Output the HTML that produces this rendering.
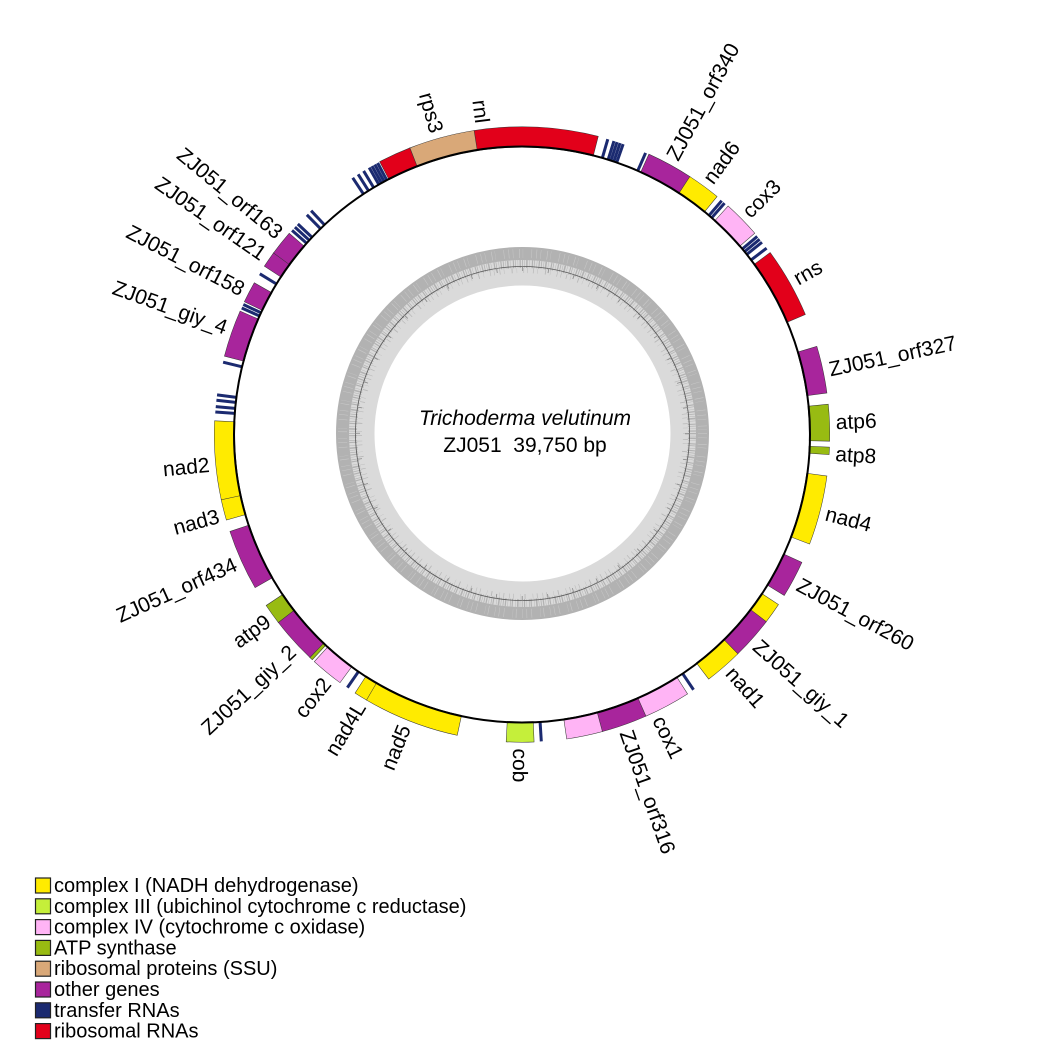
<!DOCTYPE html>
<html><head><meta charset="utf-8"><style>
html,body{margin:0;padding:0;background:#fff;}
svg{display:block;font-family:"Liberation Sans",Arial,sans-serif;}
</style></head><body>
<svg width="1062" height="1062" viewBox="0 0 1062 1062" xmlns="http://www.w3.org/2000/svg">
<rect width="1062" height="1062" fill="#fff"/>

<!-- GC content ring -->
<g transform="translate(522.5 433.5)" fill="none">
<circle r="167" stroke="#dadada" stroke-width="38"/>
<circle r="180" stroke="#b2b2b2" stroke-width="13"/>
<circle r="169.5" stroke="#b2b2b2" stroke-width="8" stroke-dasharray="0.8 1.6 0.5 1.2 1.5 1.4 0.4 2.4 1.1 1.0 0.7 2.0 0.4 1.5 1.2 1.3"/>
<circle r="163" stroke="#b8b8b8" stroke-width="5" stroke-dasharray="0.5 5.1 0.7 3.7 0.4 7.3 0.9 4.2 0.3 6.5 0.6 3.4"/>
<circle r="180" stroke="#c9c9c9" stroke-width="9" stroke-dasharray="0.5 3.7 0.4 6.1 0.6 2.9 0.3 8.4 0.5 4.4"/>
<circle r="167" stroke="#555" stroke-width="0.8"/>
<circle r="165" stroke="#888" stroke-width="5" stroke-dasharray="0.8 25.1"/>
</g>

<text x="525" y="425" font-size="21" font-style="italic" text-anchor="middle" fill="#000">Trichoderma velutinum</text>
<text x="525" y="452" font-size="21" text-anchor="middle" fill="#000">ZJ051&#160; 39,750 bp</text>

<g transform="translate(522 434.5)">
<g fill="none">
<circle r="297.5" stroke="#333" stroke-width="21" stroke-dasharray="122.02 2000" transform="rotate(260.9)"/>
<circle r="297.5" stroke="#e2001a" stroke-width="20" stroke-dasharray="120.98 2000" transform="rotate(261)"/>
<circle r="297.5" stroke="#333" stroke-width="21" stroke-dasharray="65.43 2000" transform="rotate(248.5)"/>
<circle r="297.5" stroke="#d9a878" stroke-width="20" stroke-dasharray="64.39 2000" transform="rotate(248.6)"/>
<circle r="297.5" stroke="#333" stroke-width="21" stroke-dasharray="32.71 2000" transform="rotate(242.4)"/>
<circle r="297.5" stroke="#e2001a" stroke-width="20" stroke-dasharray="31.67 2000" transform="rotate(242.5)"/>
<circle r="297.5" stroke="#333" stroke-width="21" stroke-dasharray="46.21 2000" transform="rotate(-65.7)"/>
<circle r="297.5" stroke="#a8259c" stroke-width="20" stroke-dasharray="45.17 2000" transform="rotate(-65.6)"/>
<circle r="297.5" stroke="#333" stroke-width="21" stroke-dasharray="33.23 2000" transform="rotate(-57)"/>
<circle r="297.5" stroke="#ffeb00" stroke-width="20" stroke-dasharray="32.19 2000" transform="rotate(-56.9)"/>
<circle r="297.5" stroke="#333" stroke-width="21" stroke-dasharray="37.39 2000" transform="rotate(-48)"/>
<circle r="297.5" stroke="#ffb4f5" stroke-width="20" stroke-dasharray="36.35 2000" transform="rotate(-47.9)"/>
<circle r="297.5" stroke="#333" stroke-width="21" stroke-dasharray="69.58 2000" transform="rotate(-36.3)"/>
<circle r="297.5" stroke="#e2001a" stroke-width="20" stroke-dasharray="68.54 2000" transform="rotate(-36.2)"/>
<circle r="297.5" stroke="#333" stroke-width="21" stroke-dasharray="46.73 2000" transform="rotate(-16.7)"/>
<circle r="297.5" stroke="#a8259c" stroke-width="20" stroke-dasharray="45.69 2000" transform="rotate(-16.6)"/>
<circle r="297.5" stroke="#333" stroke-width="21" stroke-dasharray="36.35 2000" transform="rotate(-5.7)"/>
<circle r="297.5" stroke="#98bb12" stroke-width="20" stroke-dasharray="35.31 2000" transform="rotate(-5.6)"/>
<circle r="297.5" stroke="#333" stroke-width="21" stroke-dasharray="7.79 2000" transform="rotate(2.3)"/>
<circle r="297.5" stroke="#98bb12" stroke-width="20" stroke-dasharray="6.75 2000" transform="rotate(2.4)"/>
<circle r="297.5" stroke="#333" stroke-width="21" stroke-dasharray="68.54 2000" transform="rotate(7.7)"/>
<circle r="297.5" stroke="#ffeb00" stroke-width="20" stroke-dasharray="67.5 2000" transform="rotate(7.8)"/>
<circle r="297.5" stroke="#333" stroke-width="21" stroke-dasharray="36.87 2000" transform="rotate(24.5)"/>
<circle r="297.5" stroke="#a8259c" stroke-width="20" stroke-dasharray="35.83 2000" transform="rotate(24.6)"/>
<circle r="297.5" stroke="#333" stroke-width="21" stroke-dasharray="21.29 2000" transform="rotate(33.5)"/>
<circle r="297.5" stroke="#ffeb00" stroke-width="20" stroke-dasharray="20.25 2000" transform="rotate(33.6)"/>
<circle r="297.5" stroke="#333" stroke-width="21" stroke-dasharray="42.58 2000" transform="rotate(37.4)"/>
<circle r="297.5" stroke="#a8259c" stroke-width="20" stroke-dasharray="41.54 2000" transform="rotate(37.5)"/>
<circle r="297.5" stroke="#333" stroke-width="21" stroke-dasharray="37.91 2000" transform="rotate(45.4)"/>
<circle r="297.5" stroke="#ffeb00" stroke-width="20" stroke-dasharray="36.87 2000" transform="rotate(45.5)"/>
<circle r="297.5" stroke="#333" stroke-width="21" stroke-dasharray="46.73 2000" transform="rotate(57.4)"/>
<circle r="297.5" stroke="#ffb4f5" stroke-width="20" stroke-dasharray="45.69 2000" transform="rotate(57.5)"/>
<circle r="297.5" stroke="#333" stroke-width="21" stroke-dasharray="45.69 2000" transform="rotate(66.2)"/>
<circle r="297.5" stroke="#a8259c" stroke-width="20" stroke-dasharray="44.65 2000" transform="rotate(66.3)"/>
<circle r="297.5" stroke="#333" stroke-width="21" stroke-dasharray="35.83 2000" transform="rotate(74.8)"/>
<circle r="297.5" stroke="#ffb4f5" stroke-width="20" stroke-dasharray="34.79 2000" transform="rotate(74.9)"/>
<circle r="297.5" stroke="#333" stroke-width="21" stroke-dasharray="27.52 2000" transform="rotate(87.7)"/>
<circle r="297.5" stroke="#c5ef3a" stroke-width="20" stroke-dasharray="26.48 2000" transform="rotate(87.8)"/>
<circle r="297.5" stroke="#333" stroke-width="21" stroke-dasharray="95.54 2000" transform="rotate(102.1)"/>
<circle r="297.5" stroke="#ffeb00" stroke-width="20" stroke-dasharray="94.5 2000" transform="rotate(102.2)"/>
<circle r="297.5" stroke="#333" stroke-width="21" stroke-dasharray="13.5 2000" transform="rotate(120.3)"/>
<circle r="297.5" stroke="#ffeb00" stroke-width="20" stroke-dasharray="12.46 2000" transform="rotate(120.4)"/>
<circle r="297.5" stroke="#333" stroke-width="21" stroke-dasharray="32.71 2000" transform="rotate(126.2)"/>
<circle r="297.5" stroke="#ffb4f5" stroke-width="20" stroke-dasharray="31.67 2000" transform="rotate(126.3)"/>
<circle r="297.5" stroke="#333" stroke-width="21" stroke-dasharray="4.16 2000" transform="rotate(132.9)"/>
<circle r="297.5" stroke="#98bb12" stroke-width="20" stroke-dasharray="3.12 2000" transform="rotate(133)"/>
<circle r="297.5" stroke="#333" stroke-width="21" stroke-dasharray="46.73 2000" transform="rotate(133.5)"/>
<circle r="297.5" stroke="#a8259c" stroke-width="20" stroke-dasharray="45.69 2000" transform="rotate(133.6)"/>
<circle r="297.5" stroke="#333" stroke-width="21" stroke-dasharray="20.77 2000" transform="rotate(142.3)"/>
<circle r="297.5" stroke="#98bb12" stroke-width="20" stroke-dasharray="19.73 2000" transform="rotate(142.4)"/>
<circle r="297.5" stroke="#333" stroke-width="21" stroke-dasharray="60.23 2000" transform="rotate(150.1)"/>
<circle r="297.5" stroke="#a8259c" stroke-width="20" stroke-dasharray="59.19 2000" transform="rotate(150.2)"/>
<circle r="297.5" stroke="#333" stroke-width="21" stroke-dasharray="21.29 2000" transform="rotate(163.8)"/>
<circle r="297.5" stroke="#ffeb00" stroke-width="20" stroke-dasharray="20.25 2000" transform="rotate(163.9)"/>
<circle r="297.5" stroke="#333" stroke-width="21" stroke-dasharray="77.37 2000" transform="rotate(167.7)"/>
<circle r="297.5" stroke="#ffeb00" stroke-width="20" stroke-dasharray="76.33 2000" transform="rotate(167.8)"/>
<circle r="297.5" stroke="#333" stroke-width="21" stroke-dasharray="46.73 2000" transform="rotate(194.7)"/>
<circle r="297.5" stroke="#a8259c" stroke-width="20" stroke-dasharray="45.69 2000" transform="rotate(194.8)"/>
<circle r="297.5" stroke="#333" stroke-width="21" stroke-dasharray="21.29 2000" transform="rotate(205.5)"/>
<circle r="297.5" stroke="#a8259c" stroke-width="20" stroke-dasharray="20.25 2000" transform="rotate(205.6)"/>
<circle r="297.5" stroke="#333" stroke-width="21" stroke-dasharray="16.62 2000" transform="rotate(213.1)"/>
<circle r="297.5" stroke="#a8259c" stroke-width="20" stroke-dasharray="15.58 2000" transform="rotate(213.2)"/>
<circle r="297.5" stroke="#333" stroke-width="21" stroke-dasharray="24.93 2000" transform="rotate(216.1)"/>
<circle r="297.5" stroke="#a8259c" stroke-width="20" stroke-dasharray="23.89 2000" transform="rotate(216.2)"/>
</g>

<g stroke="#1b2a70" stroke-width="3">
<line x1="0" y1="-288" x2="0" y2="-307.5" transform="rotate(16.2)"/>
<line x1="0" y1="-288" x2="0" y2="-307.5" transform="rotate(17.4)"/>
<line x1="0" y1="-288" x2="0" y2="-307.5" transform="rotate(18.0)"/>
<line x1="0" y1="-288" x2="0" y2="-307.5" transform="rotate(18.6)"/>
<line x1="0" y1="-288" x2="0" y2="-307.5" transform="rotate(19.2)"/>
<line x1="0" y1="-288" x2="0" y2="-307.5" transform="rotate(23.7)"/>
<line x1="0" y1="-288" x2="0" y2="-307.5" transform="rotate(40.5)"/>
<line x1="0" y1="-288" x2="0" y2="-307.5" transform="rotate(41.2)"/>
<line x1="0" y1="-288" x2="0" y2="-307.5" transform="rotate(49.9)"/>
<line x1="0" y1="-288" x2="0" y2="-307.5" transform="rotate(50.6)"/>
<line x1="0" y1="-288" x2="0" y2="-307.5" transform="rotate(51.3)"/>
<line x1="0" y1="-288" x2="0" y2="-307.5" transform="rotate(52.7)"/>
<line x1="0" y1="-288" x2="0" y2="-307.5" transform="rotate(146.1)"/>
<line x1="0" y1="-288" x2="0" y2="-307.5" transform="rotate(176.4)"/>
<line x1="0" y1="-288" x2="0" y2="-307.5" transform="rotate(214.6)"/>
<line x1="0" y1="-288" x2="0" y2="-307.5" transform="rotate(274.2)"/>
<line x1="0" y1="-288" x2="0" y2="-307.5" transform="rotate(275.2)"/>
<line x1="0" y1="-288" x2="0" y2="-307.5" transform="rotate(276.4)"/>
<line x1="0" y1="-288" x2="0" y2="-307.5" transform="rotate(277.4)"/>
<line x1="0" y1="-288" x2="0" y2="-307.5" transform="rotate(283.6)"/>
<line x1="0" y1="-288" x2="0" y2="-307.5" transform="rotate(294.3)"/>
<line x1="0" y1="-288" x2="0" y2="-307.5" transform="rotate(295.0)"/>
<line x1="0" y1="-288" x2="0" y2="-307.5" transform="rotate(301.5)"/>
<line x1="0" y1="-288" x2="0" y2="-307.5" transform="rotate(311.6)"/>
<line x1="0" y1="-288" x2="0" y2="-307.5" transform="rotate(312.4)"/>
<line x1="0" y1="-288" x2="0" y2="-307.5" transform="rotate(313.2)"/>
<line x1="0" y1="-288" x2="0" y2="-307.5" transform="rotate(315.6)"/>
<line x1="0" y1="-288" x2="0" y2="-307.5" transform="rotate(316.7)"/>
<line x1="0" y1="-288" x2="0" y2="-307.5" transform="rotate(326.6)"/>
<line x1="0" y1="-288" x2="0" y2="-307.5" transform="rotate(327.8)"/>
<line x1="0" y1="-288" x2="0" y2="-307.5" transform="rotate(329.0)"/>
<line x1="0" y1="-288" x2="0" y2="-307.5" transform="rotate(330.2)"/>
<line x1="0" y1="-288" x2="0" y2="-307.5" transform="rotate(330.8)"/>
<line x1="0" y1="-288" x2="0" y2="-307.5" transform="rotate(331.4)"/>
<line x1="0" y1="-288" x2="0" y2="-307.5" transform="rotate(332.0)"/>
</g>

<circle r="288" fill="none" stroke="#000" stroke-width="2"/>

<g font-size="21" fill="#000">
<text transform="rotate(-61.5) translate(314 0)" dy="0.35em">ZJ051_orf340</text>
<text transform="rotate(-53.8) translate(314 0)" dy="0.35em">nad6</text>
<text transform="rotate(-44.6) translate(314 0)" dy="0.35em">cox3</text>
<text transform="rotate(-29.6) translate(314 0)" dy="0.35em">rns</text>
<text transform="rotate(-12) translate(314 0)" dy="0.35em">ZJ051_orf327</text>
<text transform="rotate(-2.3) translate(314 0)" dy="0.35em">atp6</text>
<text transform="rotate(3.5) translate(314 0)" dy="0.35em">atp8</text>
<text transform="rotate(14.5) translate(314 0)" dy="0.35em">nad4</text>
<text transform="rotate(28.3) translate(314 0)" dy="0.35em">ZJ051_orf260</text>
<text transform="rotate(41.7) translate(314 0)" dy="0.35em">ZJ051_giy_1</text>
<text transform="rotate(48.5) translate(314 0)" dy="0.35em">nad1</text>
<text transform="rotate(64.2) translate(314 0)" dy="0.35em">cox1</text>
<text transform="rotate(70.6) translate(314 0)" dy="0.35em">ZJ051_orf316</text>
<text transform="rotate(90.3) translate(314 0)" dy="0.35em">cob</text>

<text transform="rotate(292) translate(-314 0)" dy="0.35em" text-anchor="end">nad5</text>
<text transform="rotate(301) translate(-314 0)" dy="0.35em" text-anchor="end">nad4L</text>
<text transform="rotate(308.5) translate(-314 0)" dy="0.35em" text-anchor="end">cox2</text>
<text transform="rotate(317) translate(-314 0)" dy="0.35em" text-anchor="end">ZJ051_giy_2</text>
<text transform="rotate(324) translate(-314 0)" dy="0.35em" text-anchor="end">atp9</text>
<text transform="rotate(335.8) translate(-314 0)" dy="0.35em" text-anchor="end">ZJ051_orf434</text>
<text transform="rotate(345) translate(-314 0)" dy="0.35em" text-anchor="end">nad3</text>
<text transform="rotate(354.5) translate(-314 0)" dy="0.35em" text-anchor="end">nad2</text>
<text transform="rotate(19.9) translate(-314 0)" dy="0.35em" text-anchor="end">ZJ051_giy_4</text>
<text transform="rotate(27.4) translate(-314 0)" dy="0.35em" text-anchor="end">ZJ051_orf158</text>
<text transform="rotate(34.8) translate(-314 0)" dy="0.35em" text-anchor="end">ZJ051_orf121</text>
<text transform="rotate(39.6) translate(-314 0)" dy="0.35em" text-anchor="end">ZJ051_orf163</text>
<text transform="rotate(74.3) translate(-314 0)" dy="0.35em" text-anchor="end">rps3</text>
<text transform="rotate(82.8) translate(-314 0)" dy="0.35em" text-anchor="end">rnl</text>
</g>
</g>

<g stroke="#222" stroke-width="1.2">
<rect x="35.5" y="878" width="15" height="15" fill="#ffeb00"/>
<rect x="35.5" y="898.8" width="15" height="15" fill="#c5ef3a"/>
<rect x="35.5" y="919.6" width="15" height="15" fill="#ffb4f5"/>
<rect x="35.5" y="940.4" width="15" height="15" fill="#98bb12"/>
<rect x="35.5" y="961.2" width="15" height="15" fill="#d9a878"/>
<rect x="35.5" y="982" width="15" height="15" fill="#a8259c"/>
<rect x="35.5" y="1002.8" width="15" height="15" fill="#1b2a70"/>
<rect x="35.5" y="1023.6" width="15" height="15" fill="#e2001a"/>
</g>
<g font-size="20" fill="#000">
<text x="54" y="892">complex I (NADH dehydrogenase)</text>
<text x="54" y="912.8">complex III (ubichinol cytochrome c reductase)</text>
<text x="54" y="933.6">complex IV (cytochrome c oxidase)</text>
<text x="54" y="954.4">ATP synthase</text>
<text x="54" y="975.2">ribosomal proteins (SSU)</text>
<text x="54" y="996">other genes</text>
<text x="54" y="1016.8">transfer RNAs</text>
<text x="54" y="1037.6">ribosomal RNAs</text>
</g>
</svg>
</body></html>
